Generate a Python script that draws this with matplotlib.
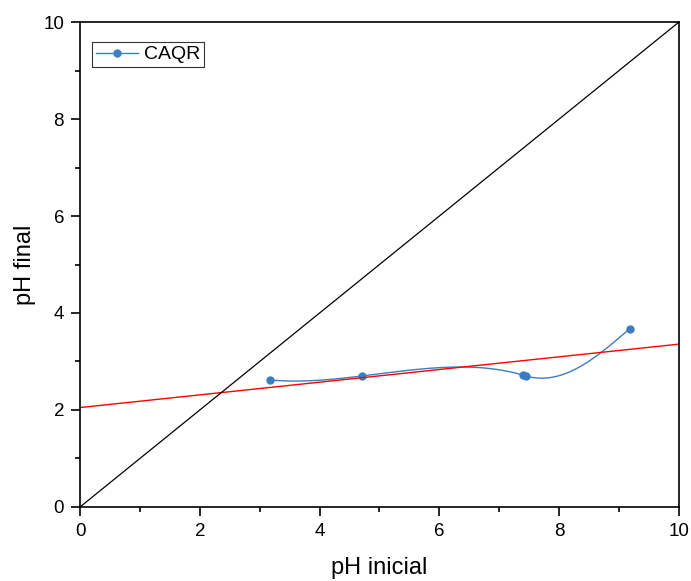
import numpy as np
import matplotlib
matplotlib.use('Agg')
import matplotlib.pyplot as plt
from matplotlib.lines import Line2D

plt.rcParams['font.family'] = ['Liberation Sans', 'DejaVu Sans']

# datos
ph_inicial = [3.17, 4.70, 7.39, 7.445, 9.18]
ph_final = [2.62, 2.70, 2.72, 2.70, 3.68]
diagonal = [0, 10]


def spline_coord(t, y, ts):
    # spline cubico: not-a-knot al inicio, natural al final
    t = np.asarray(t, float)
    y = np.asarray(y, float)
    n = len(t)
    h = np.diff(t)
    A = np.zeros((n, n))
    b = np.zeros(n)
    A[0, 0], A[0, 1], A[0, 2] = h[1], -(h[0] + h[1]), h[0]
    A[-1, -1] = 1
    for i in range(1, n - 1):
        A[i, i - 1] = h[i - 1]
        A[i, i] = 2 * (h[i - 1] + h[i])
        A[i, i + 1] = h[i]
        b[i] = 3 * ((y[i + 1] - y[i]) / h[i] - (y[i] - y[i - 1]) / h[i - 1])
    c = np.linalg.solve(A, b)
    out = np.zeros_like(ts)
    for i in range(n - 1):
        bi = (y[i + 1] - y[i]) / h[i] - h[i] * (2 * c[i] + c[i + 1]) / 3
        di = (c[i + 1] - c[i]) / (3 * h[i])
        m = (ts >= t[i]) & (ts <= t[i + 1])
        s = ts[m] - t[i]
        out[m] = y[i] + bi * s + c[i] * s ** 2 + di * s ** 3
    return out


def spline_param(x, y, npts=600):
    # spline parametrico por longitud de cuerda
    x = np.asarray(x, float)
    y = np.asarray(y, float)
    t = np.concatenate([[0], np.cumsum(np.hypot(np.diff(x), np.diff(y)))])
    ts = np.linspace(0, t[-1], npts)
    return spline_coord(t, x, ts), spline_coord(t, y, ts)


fig = plt.figure(figsize=(6.91, 5.81), dpi=100)
ax = fig.add_axes([0.1158, 0.1274, 0.8668, 0.8347])

azul = '#3b7dbf'
xs, ys = spline_param(ph_inicial, ph_final)
ax.plot(xs, ys, color=azul, lw=1.0)
ax.plot(ph_inicial, ph_final, 'o', color=azul, ms=5)

# ajuste lineal
m, b = np.polyfit(ph_inicial, ph_final, 1)
ax.plot(diagonal, [b + m * diagonal[0], b + m * diagonal[1]], color='red', lw=1.0)
ax.plot(diagonal, diagonal, color='black', lw=0.9)

ax.set_xlim(0, 10)
ax.set_ylim(0, 10)
ax.set_xticks([0, 2, 4, 6, 8, 10])
ax.set_yticks([0, 2, 4, 6, 8, 10])
ax.set_xticks(np.arange(1, 10, 2), minor=True)
ax.set_yticks(np.arange(1, 10, 2), minor=True)
ax.tick_params(which='both', direction='out', labelsize=13.5, width=1.2, pad=5)
ax.tick_params(which='major', length=6.5)
ax.tick_params(which='minor', length=3.5)
for s in ax.spines.values():
    s.set_linewidth(1.2)

ax.set_xlabel('pH inicial', fontsize=17, labelpad=12)
ax.set_ylabel('pH final', fontsize=17, labelpad=5)

leg = ax.legend([Line2D([0, 1], [0, 0], color=azul, lw=1.0, marker='o', ms=5)], ['CAQR'],
                loc='upper left', fontsize=14, frameon=True, fancybox=False,
                edgecolor='black', borderpad=0.2, handlelength=2.2, handletextpad=0.3,
                borderaxespad=0, bbox_to_anchor=(0.0195, 0.959))
leg.get_frame().set_linewidth(0.8)

fig.savefig('out.png', dpi=100)
